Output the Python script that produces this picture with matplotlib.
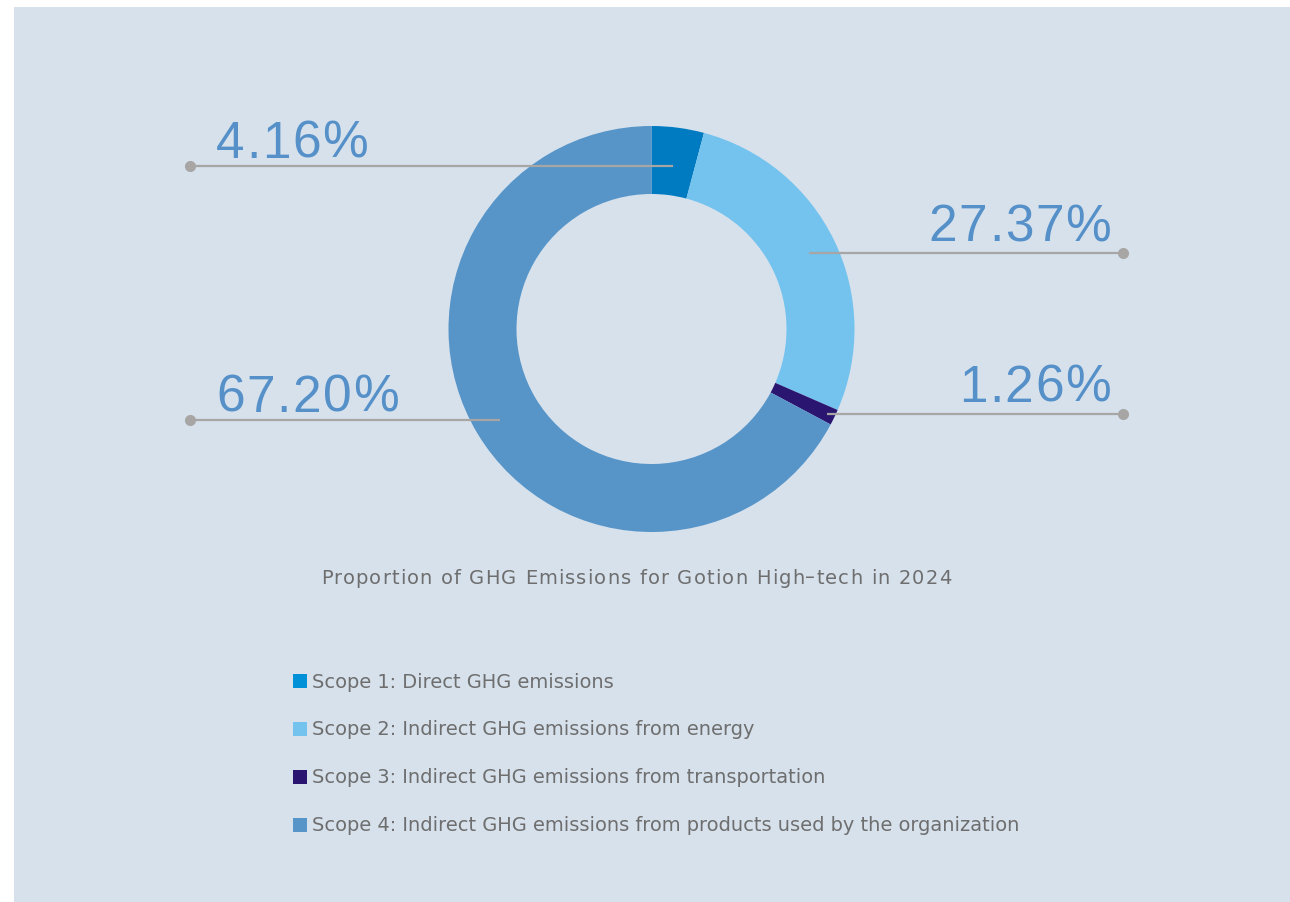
import matplotlib
matplotlib.use("Agg")
import matplotlib.pyplot as plt
from matplotlib.patches import Rectangle
import numpy as np

# ---- data ----
categories = [
    "Scope 1: Direct GHG emissions",
    "Scope 2: Indirect GHG emissions from energy",
    "Scope 3: Indirect GHG emissions from transportation",
    "Scope 4: Indirect GHG emissions from products used by the organization",
]
shares = [4.16, 27.37, 1.26, 67.20]
labels = ["4.16%", "27.37%", "1.26%", "67.20%"]
title = "Proportion of GHG Emissions for Gotion High\u2013tech in 2024"

# ---- style ----
wedge_colors = ["#007bc1", "#74c3ee", "#2a1670", "#5795c9"]
legend_colors = ["#0090d8", "#74c3ee", "#2a1670", "#5795c9"]
bg = "#d6e1ec"
label_color = "#5590c8"
line_color = "#a8a6a4"
text_gray = "#6e6e6e"
sides = ["left", "right", "right", "left"]
rfac = [0.81, 0.86, 0.96, 0.87]

W, H = 1290, 903
fig = plt.figure(figsize=(W / 100, H / 100), dpi=100, facecolor="white")
ax = fig.add_axes([0, 0, 1, 1])
renderer = fig.canvas.get_renderer()


def Y(y):
    return H - y


def text_width(s, **kw):
    t = ax.text(0, 0, s, **kw)
    w = t.get_window_extent(renderer).width
    t.remove()
    return w


def tracked_text(x, y, s, spacing, ha="left", **kw):
    bar_w = text_width("|", **kw)
    advs = [0.0]
    for k in range(1, len(s)):
        advs.append(text_width(s[:k] + "|", **kw) - bar_w)
    total = text_width(s, **kw) + spacing * (len(s) - 1)
    if ha == "right":
        x0 = x - total
    elif ha == "center":
        x0 = x - total / 2
    else:
        x0 = x
    for k, ch in enumerate(s):
        if ch != " ":
            ax.text(x0 + advs[k] + k * spacing, y, ch, ha="left", **kw)


ax.set_xlim(0, W)
ax.set_ylim(0, H)
ax.add_patch(Rectangle((14, 0), W - 14, H - 8, facecolor=bg, edgecolor="none", zorder=0))

cx, cy, R, ring = 651.5, 330, 203, 68
wedges, _ = ax.pie(shares, colors=wedge_colors, startangle=90, counterclock=False,
                   center=(cx, Y(cy)), radius=R,
                   wedgeprops=dict(width=ring, edgecolor="none", linewidth=0))
for w in wedges:
    w.set_zorder(2)

ax.set_xlim(0, W)
ax.set_ylim(0, H)
ax.set_aspect("equal")
ax.axis("off")

label_kw = dict(fontsize=37, color=label_color, family="Liberation Sans",
                va="baseline", zorder=4)

# leader lines and labels
for i, w in enumerate(wedges):
    mid = np.deg2rad((w.theta1 + w.theta2) / 2)
    ax_x = cx + R * rfac[i] * np.cos(mid)
    ax_y = Y(cy) + R * rfac[i] * np.sin(mid)
    right = sides[i] == "right"
    dot_x = 1123 if right else 190
    ax.plot([ax_x, dot_x], [ax_y, ax_y], color=line_color, lw=1.6, zorder=3,
            solid_capstyle="butt")
    ax.plot([dot_x], [ax_y], "o", color=line_color, ms=8, mew=0, zorder=3)
    if right:
        tracked_text(1111, ax_y + 13, labels[i], 1.6, ha="right", **label_kw)
    else:
        tracked_text(216, ax_y + 9, labels[i], 1.6, ha="left", **label_kw)

tracked_text(636, Y(578), title, 1.15, ha="center", va="center", fontsize=14,
             color=text_gray, family="DejaVu Sans", zorder=4)

for i, (cat, col) in enumerate(zip(categories, legend_colors)):
    yc = 682 + 48 * i
    ax.add_patch(Rectangle((293, Y(yc) - 7), 14, 14, facecolor=col, edgecolor="none", zorder=4))
    ax.text(312, Y(yc), cat, ha="left", va="center", fontsize=13.95,
            color=text_gray, family="DejaVu Sans", zorder=4)

fig.savefig("out.png", dpi=100, facecolor="white")
